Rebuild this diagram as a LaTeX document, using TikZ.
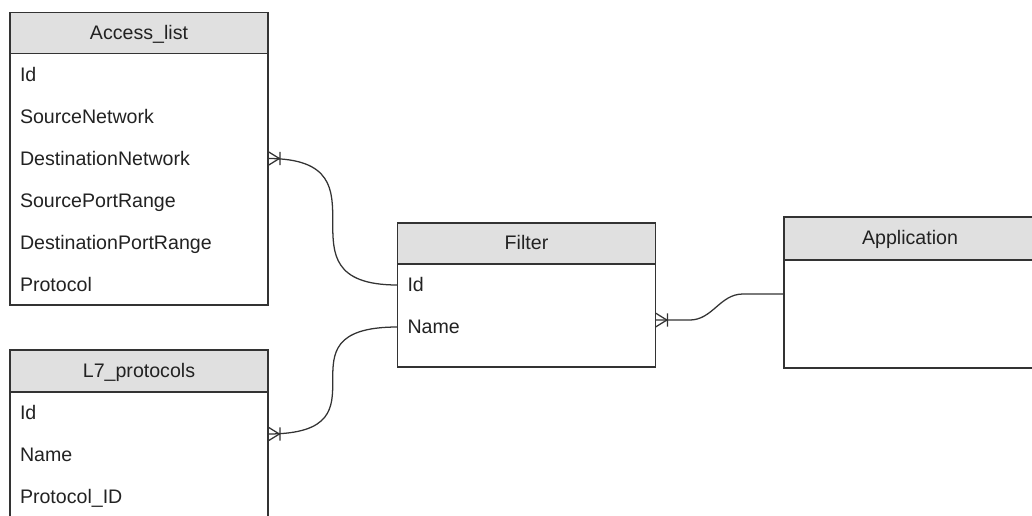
\documentclass[tikz,border=0pt]{standalone}
\usepackage{fontspec}
\setmainfont{Liberation Sans}
\usetikzlibrary{positioning}

\definecolor{border}{HTML}{333333}
\definecolor{headfill}{HTML}{E0E0E0}
\definecolor{ink}{HTML}{222222}

% one-or-many end of a relationship
\pgfdeclarearrow{
  name = crowfoot,
  setup code = {
    \pgfarrowssettipend{0pt}
    \pgfarrowssetlineend{0pt}
    \pgfarrowssetbackend{-9pt}
    \pgfarrowssetvisualbackend{-9pt}
    \pgfarrowshullpoint{0pt}{5.25pt}
    \pgfarrowshullpoint{0pt}{-5.25pt}
    \pgfarrowshullpoint{-9pt}{5pt}
    \pgfarrowshullpoint{-9pt}{-5pt}
  },
  drawing code = {
    \pgfsetdash{}{0pt}
    \pgfpathmoveto{\pgfqpoint{0pt}{5.25pt}}
    \pgfpathlineto{\pgfqpoint{-8.5pt}{0pt}}
    \pgfpathlineto{\pgfqpoint{0pt}{-5.25pt}}
    \pgfpathmoveto{\pgfqpoint{-9pt}{5pt}}
    \pgfpathlineto{\pgfqpoint{-9pt}{-5pt}}
    \pgfusepathqstroke
  }
}

\begin{document}
\begin{tikzpicture}[x=0.75pt, y=-0.75pt,
    font=\fontsize{14.7pt}{17pt}\selectfont, text=ink,
    head/.style={draw=border, line width=1pt, fill=headfill, minimum width=193.5pt,
      minimum height=30.75pt, inner sep=0pt, outer sep=0pt, text height=1.8ex, text depth=0pt},
    body/.style={draw=border, line width=1pt, minimum width=193.5pt, inner sep=0pt, outer sep=0pt},
    field/.style={text width=178.5pt, inner xsep=7.5pt, inner ysep=0pt, outer sep=0pt,
      minimum height=31.5pt, align=left, text height=1.9ex, text depth=0pt},
    rel/.style={draw=border, line width=0.95pt, arrows={crowfoot-}}]
    \clip (0,0) rectangle (1032,515);

    % Entities
    \node[head] (al) at (139,33) {Access\_list};
    \node[body, minimum height=188.6pt, below=0pt of al] (al-body) {};
    \node[field, below=0pt of al] (al-id) {Id};
    \node[field, below=0pt of al-id] (al-sn) {SourceNetwork};
    \node[field, below=0pt of al-sn] (al-dn) {DestinationNetwork};
    \node[field, below=0pt of al-dn] (al-sp) {SourcePortRange};
    \node[field, below=0pt of al-sp] (al-dp) {DestinationPortRange};
    \node[field, below=0pt of al-dp] (al-pr) {Protocol};

    \node[head, minimum height=31.5pt] (l7) at (139,371) {L7\_protocols};
    \node[body, minimum height=120pt, below=0pt of l7] (l7-body) {};
    \node[field, below=0pt of l7] (l7-id) {Id};
    \node[field, below=0pt of l7-id] (l7-name) {Name};
    \node[field, below=0pt of l7-name] (l7-pid) {Protocol\_ID};

    \node[head] (flt) at (526.5,243.5) {Filter};
    \node[body, minimum height=77.25pt, below=0pt of flt] (flt-body) {};
    \node[field, below=0pt of flt] (flt-id) {Id};
    \node[field, below=0pt of flt-id] (flt-name) {Name};

    \node[head, minimum width=189pt, minimum height=32.25pt] (app) at (910,238.5) {Application};
    \node[body, minimum width=189pt, minimum height=81pt, below=0pt of app] (app-body) {};

    % Relationships
    \coordinate (flt-out) at ([yshift=-3.4pt]flt-body.east);
    \coordinate (app-in) at ([yshift=15pt]app-body.west);
    \draw[rel] (al-dn.east) .. controls (flt-id.west |- al-dn.east) and (al-dn.east |- flt-id.west) .. (flt-id.west);
    \draw[rel] (l7-id.south east) .. controls (flt-name.west |- l7-id.south east) and (l7-id.south east |- flt-name.west) .. (flt-name.west);
    \draw[rel] (flt-out) -- ++(34,0) to[out=0, in=180] ([xshift=-30.75pt]app-in) -- (app-in);
\end{tikzpicture}
\end{document}
